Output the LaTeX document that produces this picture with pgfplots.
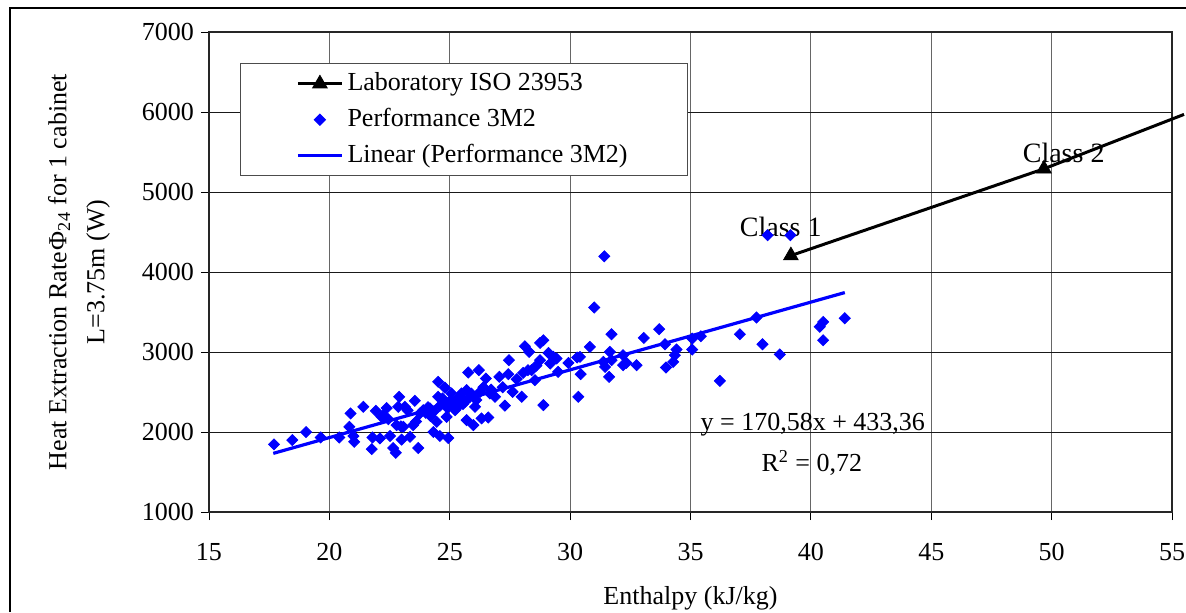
\documentclass[border=0pt]{standalone}
\usepackage{fontspec}
\setmainfont{Liberation Serif}
\usepackage{pgfplots}
\usepackage{pgfplotstable}
\pgfplotsset{compat=1.18}

% Performance 3M2 measurements (enthalpy, heat extraction rate)
\pgfplotstableread{
x y
17.70 1845
18.46 1899
19.03 1999
19.64 1932
20.41 1932
20.83 2065
20.88 2232
21.00 1949
21.03 1878
21.41 2315
21.76 1786
21.79 1932
21.93 2265
22.10 1920
22.17 2190
22.24 2211
22.38 2300
22.45 2160
22.52 1950
22.65 1800
22.76 1740
22.79 2086
22.86 2315
22.90 2440
22.97 2070
23.00 1905
23.07 2065
23.14 2315
23.25 2270
23.35 1940
23.48 2086
23.55 2390
23.60 2130
23.69 1800
23.76 2232
23.90 2273
24.00 2240
24.10 2310
24.18 2295
24.20 2200
24.32 2000
24.35 2260
24.46 2127
24.52 2440
24.52 2627
24.59 1950
24.60 2330
24.70 2420
24.80 2555
24.87 2190
24.87 2357
24.90 2300
24.94 1925
25.05 2400
25.07 2482
25.15 2330
25.22 2273
25.29 2300
25.35 2420
25.42 2440
25.49 2482
25.55 2350
25.63 2377
25.70 2523
25.70 2149
25.77 2744
25.84 2440
25.90 2480
25.98 2086
26.05 2315
26.10 2400
26.21 2773
26.26 2502
26.32 2170
26.40 2560
26.50 2669
26.60 2182
26.67 2482
26.72 2530
26.88 2440
27.06 2690
27.20 2560
27.29 2330
27.43 2723
27.46 2898
27.61 2502
27.78 2660
27.99 2440
28.05 2739
28.12 3072
28.25 2773
28.30 3001
28.40 2773
28.54 2648
28.60 2830
28.75 2898
28.75 3114
28.89 3147
28.89 2336
29.10 2989
29.17 2856
29.30 2940
29.44 2919
29.50 2752
29.93 2864
30.29 2931
30.34 2440
30.41 2939
30.44 2723
30.82 3064
31.00 3556
31.38 2876
31.42 4196
31.45 2814
31.62 2690
31.65 3001
31.72 2898
31.72 3222
32.20 2960
32.20 2835
32.34 2864
32.76 2835
33.06 3176
33.70 3285
33.94 3097
33.98 2806
34.28 2876
34.35 2960
34.42 3031
35.07 3031
35.07 3168
35.43 3197
36.22 2639
37.05 3222
37.74 3431
37.99 3097
38.20 4460
38.71 2969
39.15 4460
40.37 3316
40.51 3376
40.51 3147
41.41 3422
}\perfdata

\begin{document}
\begin{tikzpicture}
\useasboundingbox (0,0) rectangle (593pt,306pt);
\draw[line width=0.8pt] (5pt,0pt) -- (5pt,302pt) -- (593pt,302pt);
\begin{axis}[
  at={(104.5pt,50pt)}, anchor=south west,
  scale only axis, width=481.5pt, height=240pt,
  xmin=15, xmax=55, ymin=1000, ymax=7000,
  xtick={15,20,...,55}, ytick={1000,2000,...,7000},
  font=\fontsize{13}{15}\selectfont,
  /pgf/number format/assume math mode=true,
  /pgf/number format/1000 sep={},
  tick align=outside, xtick pos=bottom, ytick pos=left,
  major tick length=4pt,
  tick style={black, line width=0.5pt},
  axis line style={black!85, line width=0.6pt},
  grid=major,
  x grid style={black!60, line width=0.5pt},
  y grid style={black!90, line width=0.5pt},
  xticklabel style={yshift=-8pt},
  xlabel={Enthalpy (kJ/kg)},
  xlabel style={at={(axis description cs:0.5,-0.179)}, anchor=center},
  ylabel={Heat Extraction Rate\kern1ptΦ\textsubscript{24} for 1 cabinet\\L=3.75m (W)},
  ylabel style={at={(axis description cs:-0.135,0.5)}, anchor=center,
    align=center, font=\fontsize{13}{19}\selectfont},
  clip=false,
  legend style={at={(axis description cs:0.032,0.935)}, anchor=north west,
    draw=black!70, line width=0.5pt, inner xsep=28pt, inner ysep=1pt,
    font=\fontsize{13}{15}\selectfont,
    nodes={text height=11pt, text depth=4pt, inner ysep=1.5pt}},
  legend cell align=left,
  legend image code/.code={\draw[#1, mark indices={2}]
    plot coordinates {(0pt,0pt) (11pt,0pt) (22pt,0pt)};},
]
\addplot[black, line width=1.5pt, mark=triangle*, mark size=4.2pt,
  mark indices={1,2}, mark options={solid, line width=0.4pt}]
  coordinates {(39.17,4205) (49.68,5290) (55.5,5970)};
\addlegendentry{Laboratory ISO 23953}
\addplot[only marks, mark=square*, mark size=1.95pt, color=blue,
  mark options={rotate=45, draw=blue, fill=blue}] table {\perfdata};
\addlegendentry{Performance 3M2}
\addplot[blue, line width=1.6pt] coordinates {(17.67,1733) (41.41,3743)};
\addlegendentry{Linear (Performance 3M2)}
\node[font=\fontsize{14}{16}\selectfont] at (axis cs:38.75,4558) {Class 1};
\node[font=\fontsize{14}{16}\selectfont] at (axis cs:50.5,5494) {Class 2};
\node at (axis cs:40.08,2086) {y = 170,58x + 433,36};
\node at (axis cs:40.04,1612) {R\textsuperscript{2} = 0,72};
\end{axis}
\end{tikzpicture}
\end{document}
